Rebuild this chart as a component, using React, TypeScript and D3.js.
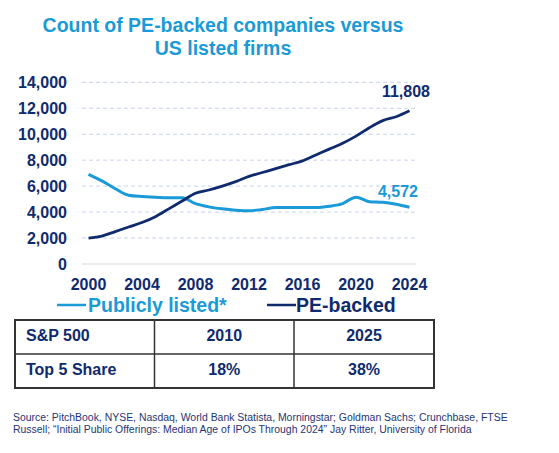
import React from "react";
import * as d3 from "d3";

const years = [2000,2001,2002,2003,2004,2005,2006,2007,2008,2009,2010,2011,2012,2013,2014,2015,2016,2017,2018,2019,2020,2021,2022,2023,2024];
const publiclyListed = [6900,6400,5800,5300,5200,5150,5100,5100,4650,4400,4250,4150,4100,4200,4350,4350,4350,4350,4450,4650,5150,4800,4750,4600,4370];
const peBacked = [2000,2150,2500,2850,3200,3650,4250,4850,5450,5700,6000,6350,6750,7050,7350,7650,7950,8400,8850,9300,9850,10500,11050,11350,11808];
const yTicks = [0,2000,4000,6000,8000,10000,12000,14000];
const xTicks = [2000,2004,2008,2012,2016,2020,2024];
const titleLines = ["Count of PE-backed companies versus", "US listed firms"];
const seriesNames = ["Publicly listed*", "PE-backed"];
const endLabels = ["4,572", "11,808"];
const tableHeader = ["S&P 500", "2010", "2025"];
const tableRow = ["Top 5 Share", "18%", "38%"];
const sourceLines = [
  "Source: PitchBook, NYSE, Nasdaq, World Bank Statista, Morningstar; Goldman Sachs; Crunchbase, FTSE",
  "Russell; \u201cInitial Public Offerings: Median Age of IPOs Through 2024\u201d Jay Ritter, University of Florida",
];

const LIGHT = "#1A9AD6";
const NAVY = "#0F2B6E";
const FONT = "'Liberation Sans', Arial, sans-serif";

export default function App() {
  const W = 559, H = 453;
  const x = d3.scaleLinear().domain([2000, 2024]).range([88.5, 409.5]);
  const y = d3.scaleLinear().domain([0, 14000]).range([264, 82.3]);
  const line = d3.line<number>().x((_, i) => x(years[i])).y((v) => y(v)).curve(d3.curveMonotoneX);

  const tX = [15, 154.5, 294, 434];
  const tY = [320, 354, 388];

  return (
    <svg width={W} height={H} style={{ position: "absolute", left: 0, top: 0, background: "#fff" }} fontFamily={FONT}>
      <rect width={W} height={H} fill="#fff" />
      {titleLines.map((t, i) => (
        <text key={t} x={223} y={31.5 + i * 23.5} textAnchor="middle" fontSize={19.5} fontWeight="bold" fill={LIGHT}>{t}</text>
      ))}
      {yTicks.map((t) => (
        <g key={t}>
          {t > 0 ? (
            <line x1={82} x2={416} y1={y(t)} y2={y(t)} stroke="#C8D3EA" strokeWidth={1} strokeDasharray="4,3" />
          ) : (
            <line x1={82} x2={416} y1={y(t)} y2={y(t)} stroke="#D3D8E0" strokeWidth={1.2} />
          )}
          <text x={67} y={y(t) + 5.5} textAnchor="end" fontSize={16} fontWeight="bold" fill={NAVY}>{d3.format(",")(t)}</text>
        </g>
      ))}
      {xTicks.map((t) => (
        <text key={t} x={x(t)} y={290} textAnchor="middle" fontSize={16} fontWeight="bold" fill={NAVY}>{t}</text>
      ))}
      <path d={line(publiclyListed) || ""} fill="none" stroke={LIGHT} strokeWidth={3} />
      <path d={line(peBacked) || ""} fill="none" stroke={NAVY} strokeWidth={2.8} />
      <text x={418} y={196.5} textAnchor="end" fontSize={16} fontWeight="bold" fill={LIGHT}>{endLabels[0]}</text>
      <text x={430} y={96.5} textAnchor="end" fontSize={16} fontWeight="bold" fill={NAVY}>{endLabels[1]}</text>

      <line x1={57} x2={86} y1={305} y2={305} stroke={LIGHT} strokeWidth={2.5} />
      <text x={88} y={311.5} fontSize={19.5} fontWeight="bold" fill={LIGHT}>{seriesNames[0]}</text>
      <line x1={267} x2={296} y1={305} y2={305} stroke={NAVY} strokeWidth={2.5} />
      <text x={296} y={311.5} fontSize={19.5} fontWeight="bold" fill={NAVY}>{seriesNames[1]}</text>

      <rect x={tX[0]} y={tY[0]} width={tX[3] - tX[0]} height={tY[2] - tY[0]} fill="none" stroke="#333" strokeWidth={2} />
      <line x1={tX[0]} x2={tX[3]} y1={tY[1]} y2={tY[1]} stroke="#333" strokeWidth={1.5} />
      <line x1={tX[1]} x2={tX[1]} y1={tY[0]} y2={tY[2]} stroke="#333" strokeWidth={1.5} />
      <line x1={tX[2]} x2={tX[2]} y1={tY[0]} y2={tY[2]} stroke="#333" strokeWidth={1.5} />
      {[tableHeader, tableRow].map((row, r) => (
        <g key={r}>
          {row.map((c, ci) => (
            <text key={ci} x={ci === 0 ? 26 : (tX[ci] + tX[ci + 1]) / 2} y={r === 0 ? 340.7 : 375} textAnchor={ci === 0 ? "start" : "middle"} fontSize={16} fontWeight="bold" fill={NAVY}>{c}</text>
          ))}
        </g>
      ))}
      {sourceLines.map((s, i) => (
        <text key={i} x={13} y={421 + i * 11.6} fontSize={10.45} fill="#1F3577">{s}</text>
      ))}
    </svg>
  );
}
